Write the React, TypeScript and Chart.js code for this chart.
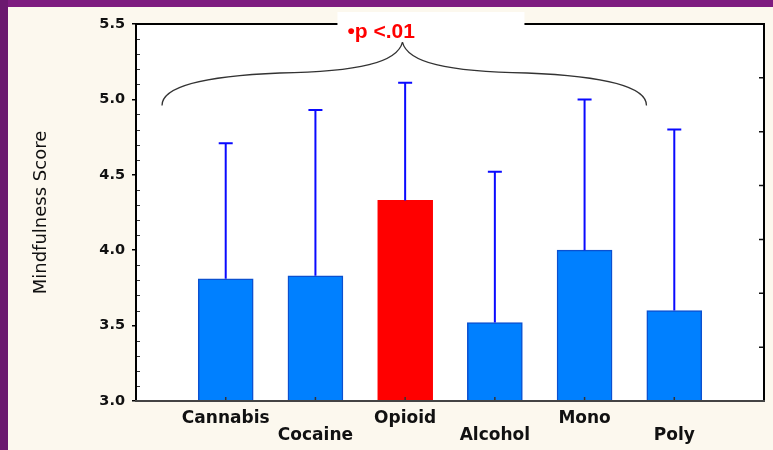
import React, { useEffect, useRef } from 'react';
import { Chart, registerables } from 'chart.js';

Chart.register(...registerables);

// Group means and the upper end of each error bar (Mindfulness Score)
const categories = ['Cannabis', 'Cocaine', 'Opioid', 'Alcohol', 'Mono', 'Poly'];
const meanScores = [3.81, 3.83, 4.33, 3.52, 4.0, 3.6];
const upperErrors = [4.71, 4.93, 5.11, 4.52, 5.0, 4.8];

const yMin = 3.0;
const yMax = 5.5;
const yStep = 0.5;
const yMinorStep = 0.1;

const significantGroup = 'Opioid';
const significanceLabel = '\u2022p <.01';

// Brace over the groups, in axis units (x = category index in the padded axis)
const braceFromIndex = 0.29;
const braceToIndex = 5.69;
const braceTipIndex = 2.97;
const braceFoot = 4.96;
const braceBand = 5.175;
const braceTip = 5.38;

// Category axis gets an empty slot on each side of the groups
const axisLabels = ['', ...categories, ''];
const barData = [null, ...meanScores, null];
const errData = [null, ...upperErrors, null];

const decorPlugin = {
  id: 'decor',
  beforeDraw(chart: any) {
    const { ctx, width, height, chartArea: a } = chart;
    ctx.save();
    ctx.fillStyle = '#fcf8ee';
    ctx.fillRect(0, 0, width, height);
    ctx.fillStyle = '#7e1c80';
    ctx.fillRect(0, 0, width, 7);
    ctx.fillStyle = '#6b196f';
    ctx.fillRect(0, 0, 8, height);
    ctx.fillStyle = '#ffffff';
    ctx.fillRect(a.left, a.top, a.right - a.left, a.bottom - a.top);
    ctx.restore();
  },
  afterDatasetsDraw(chart: any) {
    const { ctx } = chart;
    const y = chart.scales.y;
    const meta = chart.getDatasetMeta(0);
    ctx.save();
    ctx.strokeStyle = '#0a0aff';
    ctx.lineWidth = 2;
    meta.data.forEach((bar: any, i: number) => {
      const hi = errData[i];
      if (hi == null) return;
      const top = y.getPixelForValue(hi);
      ctx.beginPath();
      ctx.moveTo(bar.x, bar.y);
      ctx.lineTo(bar.x, top);
      ctx.moveTo(bar.x - 7, top);
      ctx.lineTo(bar.x + 7, top);
      ctx.stroke();
    });
    ctx.restore();
  },
  afterDraw(chart: any) {
    const { ctx, chartArea: a } = chart;
    const x = chart.scales.x;
    const y = chart.scales.y;
    const y2 = chart.scales.y2;
    ctx.save();

    // minor ticks inside the left axis
    ctx.strokeStyle = '#333';
    ctx.lineWidth = 1;
    const nMinor = Math.round((yMax - yMin) / yMinorStep);
    const perMajor = Math.round(yStep / yMinorStep);
    ctx.beginPath();
    for (let k = 1; k < nMinor; k++) {
      if (k % perMajor === 0) continue;
      const py = Math.round(y.getPixelForValue(yMin + k * yMinorStep)) + 0.5;
      ctx.moveTo(a.left, py);
      ctx.lineTo(a.left + 4, py);
    }
    ctx.stroke();

    // ticks inside the right edge
    ctx.strokeStyle = '#111';
    ctx.lineWidth = 1.5;
    ctx.beginPath();
    for (let k = y2.min + 1; k < y2.max; k++) {
      const py = y2.getPixelForValue(k);
      ctx.moveTo(a.right - 5, py);
      ctx.lineTo(a.right, py);
    }
    ctx.stroke();

    // category ticks inside the bottom edge
    ctx.strokeStyle = '#333';
    ctx.beginPath();
    categories.forEach((_, i) => {
      const px = x.getPixelForValue(i + 1);
      ctx.moveTo(px, a.bottom);
      ctx.lineTo(px, a.bottom - 4);
    });
    ctx.stroke();

    // plot frame
    ctx.lineWidth = 2;
    ctx.strokeStyle = '#000';
    ctx.beginPath();
    ctx.moveTo(a.left, a.bottom);
    ctx.lineTo(a.left, a.top);
    ctx.lineTo(a.right, a.top);
    ctx.lineTo(a.right, a.bottom);
    ctx.stroke();
    ctx.strokeStyle = '#444';
    ctx.beginPath();
    ctx.moveTo(a.left - 1, a.bottom);
    ctx.lineTo(a.right + 1, a.bottom);
    ctx.stroke();

    // significance label on a white box
    const tipX = x.getPixelForValue(braceTipIndex);
    const textLeft = tipX - 55;
    ctx.fillStyle = '#ffffff';
    ctx.fillRect(textLeft - 10, a.top - 12, 187, 24);
    ctx.fillStyle = '#ff0000';
    ctx.font = 'bold 21px "Liberation Sans", Arial, sans-serif';
    ctx.textAlign = 'left';
    ctx.textBaseline = 'alphabetic';
    ctx.fillText(significanceLabel, textLeft, a.top + 14);

    // curly brace
    const xl = x.getPixelForValue(braceFromIndex);
    const xr = x.getPixelForValue(braceToIndex);
    const yf = y.getPixelForValue(braceFoot);
    const yb = y.getPixelForValue(braceBand);
    const yt = y.getPixelForValue(braceTip);
    const half = (x0: number, dir: number) => {
      const w = Math.abs(tipX - x0);
      ctx.moveTo(x0, yf);
      ctx.bezierCurveTo(
        x0, yf + (yb - yf) * 0.55,
        x0 + dir * 0.16 * w, yb + (yf - yb) * 0.1,
        x0 + dir * 0.49 * w, yb
      );
      ctx.bezierCurveTo(
        x0 + dir * 0.82 * w, yb - 1,
        tipX - dir * 0.02 * w, yb + (yt - yb) * 0.35,
        tipX, yt
      );
    };
    ctx.strokeStyle = '#333';
    ctx.lineWidth = 1.3;
    ctx.beginPath();
    half(xl, 1);
    half(xr, -1);
    ctx.stroke();

    ctx.restore();
  },
};

export default function App() {
  const canvasRef = useRef<HTMLCanvasElement | null>(null);

  useEffect(() => {
    if (!canvasRef.current) return;
    Chart.defaults.font.family = '"DejaVu Sans", sans-serif';
    const chart = new Chart(canvasRef.current, {
      type: 'bar',
      data: {
        labels: axisLabels,
        datasets: [
          {
            data: barData,
            base: yMin,
            barThickness: 55,
            backgroundColor: (c: any) =>
              axisLabels[c.dataIndex] === significantGroup ? '#ff0000' : '#0080ff',
            borderColor: (c: any) =>
              axisLabels[c.dataIndex] === significantGroup ? '#ff0000' : '#0b50d0',
            borderWidth: 1.5,
          } as any,
        ],
      },
      options: {
        responsive: false,
        animation: false,
        events: [],
        layout: { padding: { top: 24, right: 9, bottom: 0, left: 0 } },
        plugins: { legend: { display: false }, tooltip: { enabled: false } },
        scales: {
          x: {
            type: 'category',
            offset: false,
            grid: { display: false },
            border: { display: false },
            ticks: {
              autoSkip: false,
              maxRotation: 0,
              minRotation: 0,
              padding: 1.5,
              color: '#111',
              font: { size: 17, weight: 'bold', lineHeight: 1.0 },
              callback: (_v: any, i: number) => {
                const name = axisLabels[i];
                if (!name) return '';
                return (i - 1) % 2 === 0 ? [name, ''] : ['', name];
              },
            },
            afterFit: (s: any) => {
              s.height = 49;
            },
          },
          y: {
            type: 'linear',
            position: 'left',
            min: yMin,
            max: yMax,
            grid: {
              drawOnChartArea: false,
              drawTicks: true,
              tickLength: 4,
              color: '#000',
              lineWidth: 1.5,
            },
            border: { display: false },
            ticks: {
              stepSize: yStep,
              padding: 7,
              color: '#111',
              font: { size: 14.5, weight: 'bold' },
              callback: (v: any) => Number(v).toFixed(1),
            },
            title: {
              display: true,
              text: 'Mindfulness Score',
              color: '#111',
              font: { size: 18, weight: 'normal' },
              padding: { top: 31, bottom: 0 },
            },
            afterFit: (s: any) => {
              s.width = 136;
            },
          },
          y2: {
            type: 'linear',
            position: 'right',
            display: false,
            min: 0,
            max: 7,
          },
        },
      } as any,
      plugins: [decorPlugin],
    });
    return () => chart.destroy();
  }, []);

  return (
    <canvas
      ref={canvasRef}
      width={773}
      height={450}
      style={{ position: 'fixed', left: 0, top: 0 }}
    />
  );
}
